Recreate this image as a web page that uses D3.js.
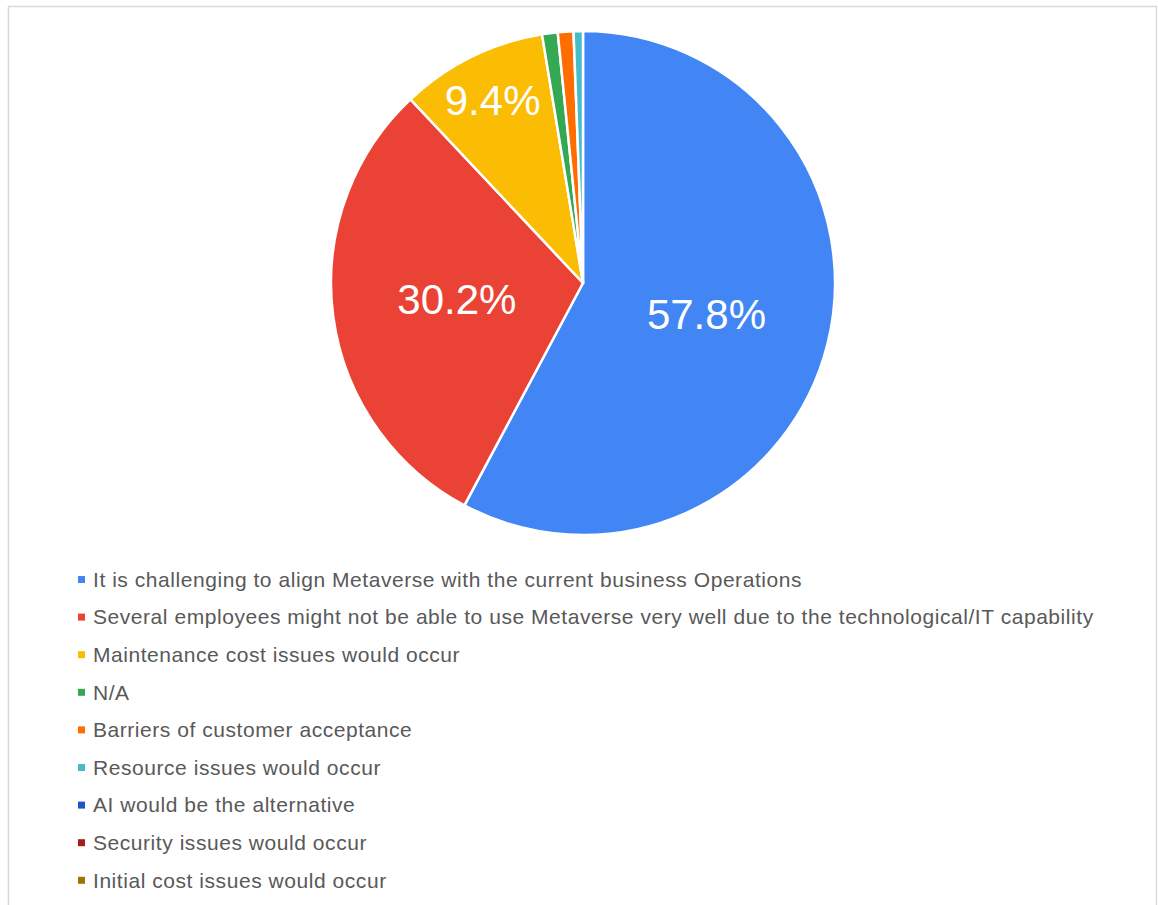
<!DOCTYPE html>
<html>
<head>
<meta charset="utf-8">
<script src="https://cdn.jsdelivr.net/npm/d3@7/dist/d3.min.js"></script>
<style>
  html, body { margin: 0; padding: 0; background: #ffffff; }
  svg { display: block; font-family: "Liberation Sans", Arial, sans-serif; }
</style>
</head>
<body>
<svg id="chart" width="1158" height="905"></svg>
<script>
// Survey responses: main challenges of adopting the Metaverse (share of respondents, %)
const categories = [
  "It is challenging to align Metaverse with the current business Operations",
  "Several employees might not be able to use Metaverse very well due to the technological/IT capability",
  "Maintenance cost issues would occur",
  "N/A",
  "Barriers of customer acceptance",
  "Resource issues would occur",
  "AI would be the alternative",
  "Security issues would occur",
  "Initial cost issues would occur"
];
const shares = [57.8, 30.2, 9.4, 1.0, 1.0, 0.6, 0, 0, 0];
const sliceColors = ["#4285F4", "#EA4335", "#FBBC04", "#34A853", "#FF6D01", "#46BDC6", "#1A56C9", "#A61C1C", "#9C7400"];

const width = 1158, height = 905;
const svg = d3.select("#chart");

// Outer frame
svg.append("rect")
  .attr("x", 8.5).attr("y", 6.5)
  .attr("width", 1148).attr("height", 910)
  .attr("fill", "none").attr("stroke", "#dadada").attr("stroke-width", 1.5);

const cx = 583, cy = 283, radius = 252;

const pie = d3.pie().sort(null).value(d => d.value).startAngle(0).endAngle(2 * Math.PI);
const data = categories.map((c, i) => ({ name: c, value: shares[i], color: sliceColors[i] }));
const arcs = pie(data);
const arc = d3.arc().innerRadius(0).outerRadius(radius);

const g = svg.append("g").attr("transform", `translate(${cx},${cy})`);

g.selectAll("path.slice")
  .data(arcs.filter(a => a.data.value > 0))
  .join("path")
  .attr("class", "slice")
  .attr("d", arc)
  .attr("fill", d => d.data.color)
  .attr("stroke", "#ffffff")
  .attr("stroke-width", 2.5)
  .attr("stroke-linejoin", "round");

// Percentage labels: large slices centred at half radius, narrower ones pushed outward
const fmt = d3.format(".1f");
g.selectAll("text.pct")
  .data(arcs.filter(a => a.data.value >= 5))
  .join("text")
  .attr("class", "pct")
  .each(function (d) {
    const share = d.data.value;
    const r = share >= 20 ? radius * 0.505 : radius * 0.81;
    const a = (d.startAngle + d.endAngle) / 2;
    d3.select(this)
      .attr("x", r * Math.sin(a))
      .attr("y", -r * Math.cos(a))
      .attr("dy", "0.35em");
  })
  .attr("text-anchor", "middle")
  .attr("fill", "#ffffff")
  .attr("font-size", 42)
  .text(d => fmt(d.data.value) + "%");

// Legend
const legendX = 78, legendY0 = 579.5, legendStep = 37.6;
const legend = svg.append("g");
const rows = legend.selectAll("g.row")
  .data(data)
  .join("g")
  .attr("class", "row")
  .attr("transform", (d, i) => `translate(${legendX},${legendY0 + i * legendStep})`);

rows.append("rect")
  .attr("x", 0).attr("y", -3.5)
  .attr("width", 7).attr("height", 7)
  .attr("fill", d => d.color);

rows.append("text")
  .attr("x", 15)
  .attr("dy", "0.35em")
  .attr("font-size", 21)
  .attr("letter-spacing", 0.55)
  .attr("fill", "#595959")
  .text(d => d.name);
</script>
</body>
</html>
